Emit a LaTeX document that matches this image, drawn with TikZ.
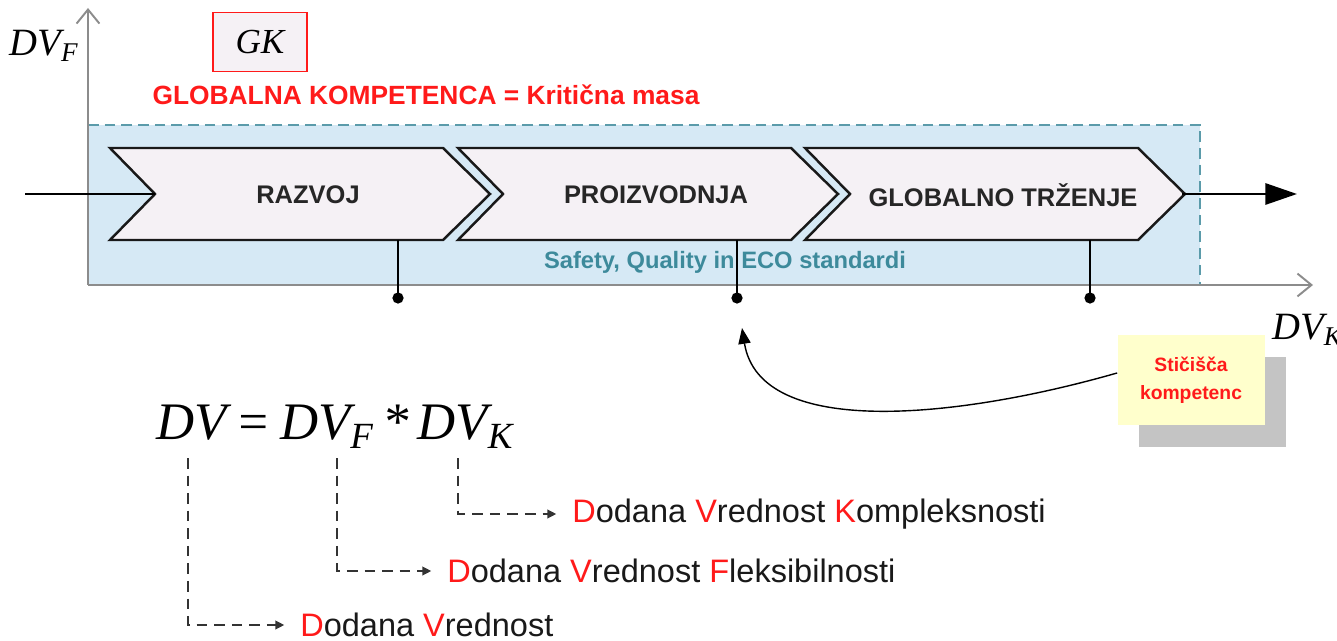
\documentclass[tikz,border=0pt]{standalone}
\usepackage{fontspec}
\setmainfont{Liberation Sans}
\newfontfamily\tnr{Liberation Serif}
\usetikzlibrary{arrows.meta,shadows}
\definecolor{chevfill}{HTML}{F5F1F5}
\definecolor{zonefill}{HTML}{D6E9F5}
\definecolor{zoneline}{HTML}{5B9BAA}
\definecolor{ecoteal}{HTML}{3D8A9B}
\definecolor{axisgray}{HTML}{8C8C8C}
\definecolor{notefill}{HTML}{FFFFCC}
\definecolor{shadowgray}{HTML}{C4C4C4}
\definecolor{hired}{HTML}{FF1A1A}
\newcommand{\redl}[1]{{\color{hired}#1}}
\begin{document}
\begin{tikzpicture}[x=0.02cm,y=-0.02cm,
    chevron/.style={draw=black!90,line width=1.4pt,fill=chevfill,line join=miter},
    stage/.style={font=\bfseries\fontsize{14.5}{17}\selectfont,text=black!85},
    axis/.style={draw=axisgray,line width=1.1pt,-{Straight Barb[length=8pt,width=13pt]}},
    desc/.style={font=\fontsize{18.5}{22}\selectfont,text=black!90,inner sep=0pt,anchor=west},
    lead/.style={draw=black!80,line width=0.7pt,dash pattern=on 6pt off 4pt,-{Triangle[length=5pt,width=5pt]}},
    formula/.style={font=\tnr\itshape\fontsize{30}{34}\selectfont,inner sep=0pt}]
\useasboundingbox (0,0) rectangle (1337,641);
% zone of the standards
\fill[zonefill] (88,125) rectangle (1200,285);
\draw[zoneline,line width=0.9pt,dash pattern=on 6pt off 3.5pt] (88,125) -- (1200,125) -- (1200,285);
% axes
\coordinate (O) at (88,285);
\draw[axis] (O) -- (88,8);
\draw[axis] (O) -- (1313,285);
\node[font=\tnr\itshape\fontsize{22}{24}\selectfont] (dvf) at (44,46) {DV\textsubscript{F}};
\node[font=\tnr\itshape\fontsize{22}{24}\selectfont,anchor=west] (dvk) at (1266,330) {DV\textsubscript{K}};
% global competence
\node[draw=hired,line width=0.9pt,fill=chevfill,minimum width=94*0.02cm,minimum height=59*0.02cm,
      font=\tnr\itshape\fontsize{20}{22}\selectfont] (gk) at (260,42) {GK};
\node[font=\bfseries\fontsize{15}{18}\selectfont,text=hired] (gkt) at (426,95) {GLOBALNA KOMPETENCA = Kritična masa};
% process chain
\foreach \x/\name/\txt in {110/raz/RAZVOJ,458/pro/PROIZVODNJA,805/glo/GLOBALNO TRŽENJE}{
  \draw[chevron] (\x,148) -- ++(333,0) -- ++(47,46) -- ++(-47,46) -- ++(-333,0) -- ++(45,-46) -- cycle;
  \node[stage] (\name) at (\x+198,195) {\txt};
}
\coordinate (in) at (25,194);
\coordinate (notch) at (155,194);
\coordinate (tip) at (1182,194);
\coordinate (out) at (1297,194);
\draw[line width=1.5pt] (in) -- (notch);
\draw[line width=1.5pt,-{Triangle[length=18pt,width=12pt]}] (tip) -- (out);
\node[font=\bfseries\fontsize{13.5}{16}\selectfont,text=ecoteal] (std) at (725,262) {Safety, Quality in ECO standardi};
% junction points
\foreach \px/\i in {398/1,737/2,1090/3}{
  \coordinate (top\i) at (\px,240);
  \coordinate (dot\i) at (\px,298);
  \draw[line width=1.1pt] (top\i) -- (dot\i);
  \fill (dot\i) circle (3.2pt);
}
\node[fill=notefill,minimum width=147*0.02cm,minimum height=90*0.02cm,align=center,
      font=\bfseries\fontsize{11}{16}\selectfont,text=hired,
      drop shadow={shadow xshift=12.5pt,shadow yshift=-12.5pt,fill=shadowgray,opacity=1}] (note) at (1191,380) {Stičišča\\kompetenc};
\coordinate (hit) at (742,328);
\draw[line width=0.8pt,-{Triangle[length=9pt,width=7pt]}] ([yshift=4pt]note.west) .. controls (960,418) and (760,440) .. (hit);
% value added formula
\node[formula] (dv) at (335,427) {DV\,=\,DV\textsubscript{F}\,*\,DV\textsubscript{K}};
\coordinate (s1) at (188,458);
\coordinate (s2) at (337,458);
\coordinate (s3) at (458,458);
\node[desc] (l3) at (572,514) {\redl{D}odana \redl{V}rednost \redl{K}ompleksnosti};
\node[desc] (l2) at (447,571) {\redl{D}odana \redl{V}rednost \redl{F}leksibilnosti};
\node[desc] (l1) at (300,625) {\redl{D}odana \redl{V}rednost};
\draw[lead] (s3) |- ([xshift=-9pt]l3.west);
\draw[lead] (s2) |- ([xshift=-9pt]l2.west);
\draw[lead] (s1) |- ([xshift=-9pt]l1.west);
\end{tikzpicture}
\end{document}
